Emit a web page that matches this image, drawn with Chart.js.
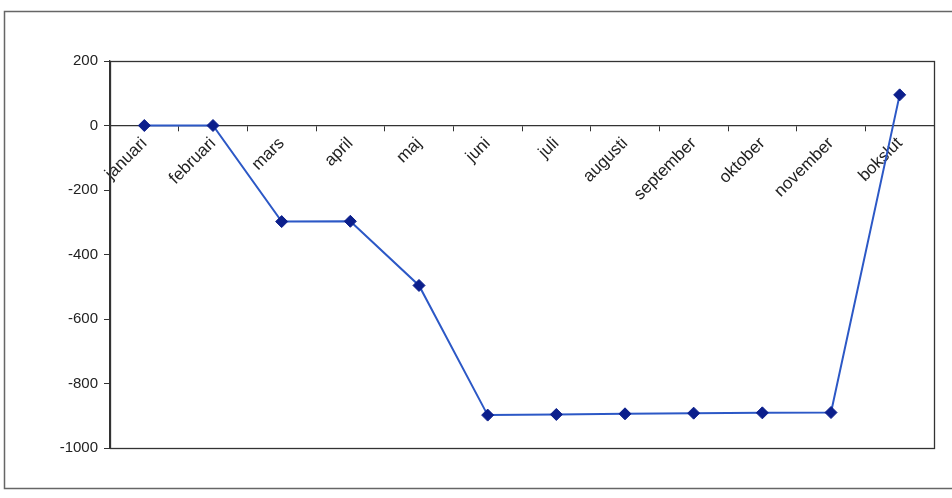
<!DOCTYPE html>
<html>
<head>
<meta charset="utf-8">
<script src="https://cdn.jsdelivr.net/npm/chart.js@4"></script>
<style>
  html, body { margin: 0; padding: 0; background: #ffffff; }
  #wrap { width: 952px; height: 498px; position: relative; }
</style>
</head>
<body>
<div id="wrap"><canvas id="c" width="952" height="498"></canvas></div>
<script>
const months = ["januari", "februari", "mars", "april", "maj", "juni", "juli", "augusti", "september", "oktober", "november", "bokslut"];
const values = [0, 0, -298, -297, -496, -898, -896, -894, -892, -891, -890, 95];
const yTicks = [200, 0, -200, -400, -600, -800, -1000];

const frame = {
  id: 'frame',
  beforeDraw(chart) {
    const ctx = chart.ctx;
    ctx.save();
    ctx.fillStyle = '#ffffff';
    ctx.fillRect(0, 0, chart.width, chart.height);
    ctx.strokeStyle = '#666666';
    ctx.lineWidth = 1.5;
    ctx.strokeRect(4.5, 11.5, 970, 477);
    ctx.restore();
  },
  beforeDatasetsDraw(chart) {
    const a = chart.chartArea;
    const ctx = chart.ctx;
    ctx.save();
    ctx.strokeStyle = '#333333';
    ctx.lineWidth = 1.3;
    ctx.strokeRect(Math.round(a.left) + 0.5, Math.round(a.top) + 0.5, Math.round(a.right - a.left), Math.round(a.bottom - a.top));
    ctx.restore();
  }
};

new Chart(document.getElementById('c'), {
  type: 'line',
  data: {
    labels: months,
    datasets: [{
      data: values,
      borderColor: '#2c58c6',
      borderWidth: 2,
      pointStyle: 'rectRot',
      pointRadius: 6,
      pointBackgroundColor: '#0c1f8c',
      pointBorderColor: '#0c1f8c',
      pointBorderWidth: 1,
      tension: 0,
      fill: false
    }]
  },
  options: {
    responsive: false,
    animation: false,
    events: [],
    layout: { padding: { left: 0, right: 18, top: 61, bottom: 50 } },
    plugins: { legend: { display: false }, tooltip: { enabled: false } },
    scales: {
      x: {
        type: 'category',
        position: { y: 0 },
        offset: true,
        border: { display: true, color: '#333333', width: 1.3 },
        grid: { display: true, drawOnChartArea: false, offset: true, tickLength: 5, color: '#333333' },
        ticks: {
          minRotation: 45, maxRotation: 45, autoSkip: false, padding: 3,
          color: '#222222',
          font: { family: 'Liberation Sans, Arial, sans-serif', size: 17 }
        }
      },
      y: {
        min: -1000, max: 200,
        afterFit(scale) { scale.width = 110; },
        afterBuildTicks(scale) { scale.ticks = yTicks.map(v => ({ value: v })); },
        border: { display: true, color: '#333333', width: 1.3 },
        grid: { display: true, drawOnChartArea: false, tickLength: 6, color: '#333333' },
        ticks: {
          color: '#222222', padding: 6,
          callback: (v) => String(v),
          font: { family: 'Liberation Sans, Arial, sans-serif', size: 15 }
        }
      }
    }
  },
  plugins: [frame]
});
</script>
</body>
</html>
